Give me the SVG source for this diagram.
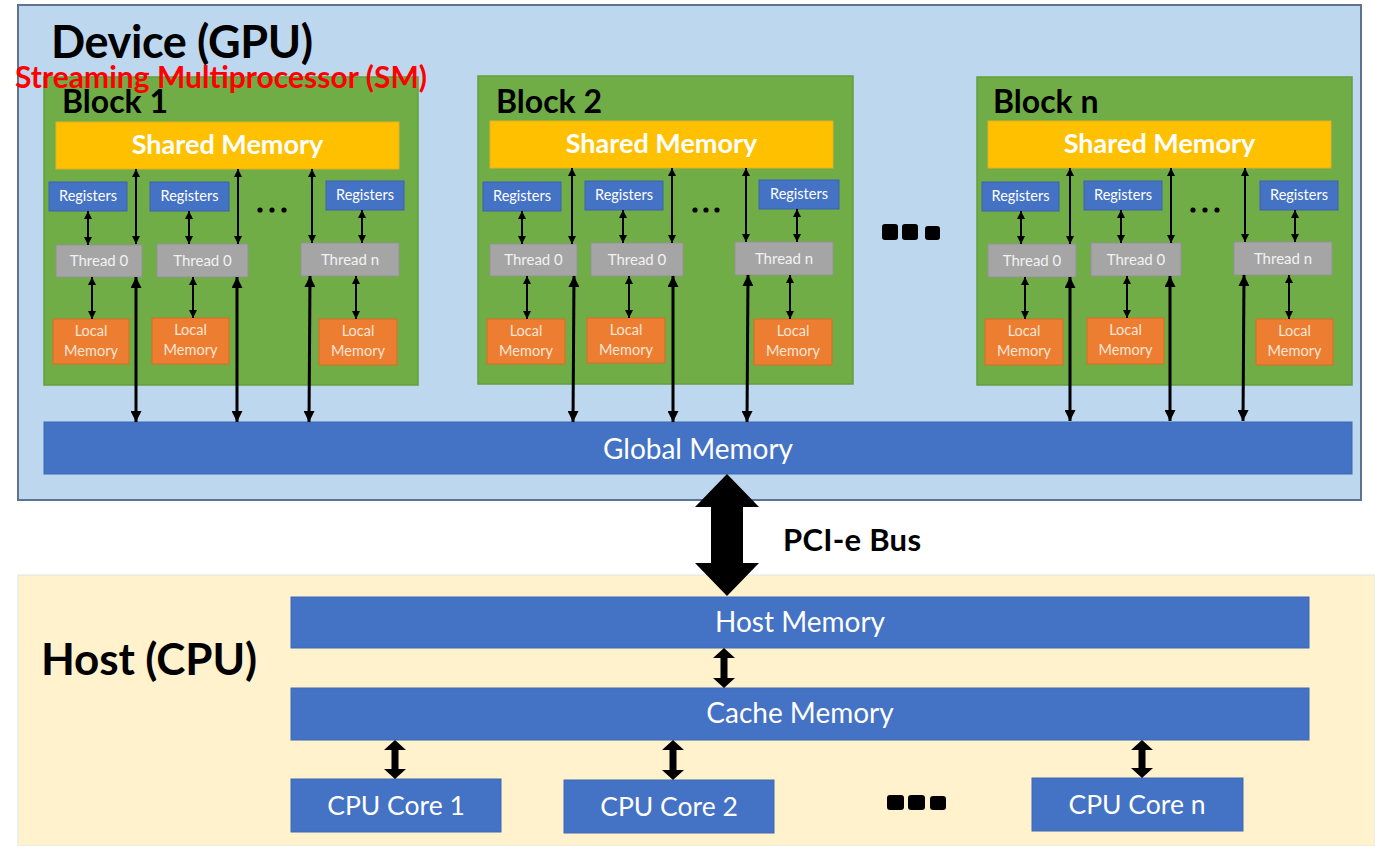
<svg xmlns="http://www.w3.org/2000/svg" width="1375" height="846" viewBox="0 0 1375 846">
<defs>
<style>
text{font-family:Lato,"Liberation Sans",Arial,sans-serif}
.title{font-weight:bold;font-size:45px;fill:#000}
.sm{font-weight:bold;font-size:30px;fill:#FF0000}
.blk{fill:#70AD47;stroke:#62A03E;stroke-width:1.5}
.blabel{font-weight:bold;font-size:32px;fill:#000}
.shared{fill:#FFC000;stroke:#E8B020;stroke-width:1}
.sharedt{font-weight:bold;font-size:27px;fill:#fff;text-anchor:middle}
.reg{fill:#4472C4;stroke:#3A64AE;stroke-width:1}
.regt{font-size:14.5px;fill:#fff;text-anchor:middle}
.thr{fill:#A5A5A5;stroke:#939393;stroke-width:1}
.thrt{font-size:15px;fill:#F2F2F2;text-anchor:middle}
.loc{fill:#ED7D31;stroke:#D86E26;stroke-width:1}
.loct{font-size:14.5px;fill:#FBE5D6;text-anchor:middle}
.bar{fill:#4472C4;stroke:#3F69B6;stroke-width:1}
.bart{font-size:28px;fill:#fff;text-anchor:middle}
.core{fill:#4472C4;stroke:#3F69B6;stroke-width:1}
.coret{font-size:26.5px;fill:#fff;text-anchor:middle}
.a1{stroke:#000;stroke-width:2;fill:none;marker-start:url(#ah);marker-end:url(#ah)}
.a2{stroke:#000;stroke-width:3;fill:none;marker-start:url(#ahL);marker-end:url(#ahL)}
.big{fill:#000}
</style>
<marker id="ah" viewBox="0 0 10 10" refX="10" refY="5" markerWidth="8" markerHeight="8" markerUnits="userSpaceOnUse" orient="auto-start-reverse"><path d="M0,0 L10,5 L0,10 z" fill="#000"/></marker>
<marker id="ahL" viewBox="0 0 10 10" refX="10" refY="5" markerWidth="12" markerHeight="11" markerUnits="userSpaceOnUse" orient="auto-start-reverse"><path d="M0,0 L10,5 L0,10 z" fill="#000"/></marker>
</defs>
<rect width="1375" height="846" fill="#fff"/>

<g id="device">
<rect x="18" y="5" width="1343" height="495" fill="#BDD7EE" stroke="#5F7391" stroke-width="2"/>
<text class="title" x="51" y="58" textLength="262">Device (GPU)</text>
</g>

<g id="host">
<rect x="18" y="575" width="1357" height="271" fill="#FFF2CC" stroke="#DCE6EA" stroke-width="1"/>
<text class="title" x="41" y="675" textLength="216" style="font-size:44px">Host (CPU)</text>
</g>

<g id="block1" transform="translate(44,77)">
<rect class="blk" x="0" y="0" width="374" height="308"/>
<text class="blabel" x="18" y="36">Block 1</text>
<rect class="shared" x="12" y="45" width="343" height="47"/>
<text class="sharedt" x="183.5" y="77">Shared Memory</text>
<rect class="reg" x="5" y="105" width="78" height="29"/><text class="regt" x="44" y="124">Registers</text>
<rect class="reg" x="106" y="105" width="79" height="29"/><text class="regt" x="145.5" y="124">Registers</text>
<rect class="reg" x="282" y="104" width="78" height="29"/><text class="regt" x="321" y="123">Registers</text>
<rect class="thr" x="12" y="168" width="86" height="32"/><text class="thrt" x="55" y="189">Thread 0</text>
<rect class="thr" x="113" y="167" width="91" height="33"/><text class="thrt" x="158.5" y="189">Thread 0</text>
<rect class="thr" x="257" y="166" width="98" height="33"/><text class="thrt" x="306" y="188">Thread n</text>
<rect class="loc" x="9" y="242" width="76" height="45"/><text class="loct" x="47" y="259">Local</text><text class="loct" x="47" y="279">Memory</text>
<rect class="loc" x="108" y="241" width="77" height="46"/><text class="loct" x="146.5" y="258">Local</text><text class="loct" x="146.5" y="278">Memory</text>
<rect class="loc" x="275" y="242" width="78" height="46"/><text class="loct" x="314" y="259">Local</text><text class="loct" x="314" y="279">Memory</text>
<circle cx="216" cy="133" r="2.6"/><circle cx="228" cy="133" r="2.6"/><circle cx="240" cy="133" r="2.6"/>
</g>

<g id="block2" transform="translate(478,76)">
<rect class="blk" x="0" y="0" width="375" height="308"/>
<text class="blabel" x="18" y="37">Block 2</text>
<rect class="shared" x="12" y="45" width="343" height="47"/>
<text class="sharedt" x="183.5" y="77">Shared Memory</text>
<rect class="reg" x="5" y="106" width="78" height="29"/><text class="regt" x="44" y="125">Registers</text>
<rect class="reg" x="107" y="105" width="78" height="29"/><text class="regt" x="146" y="124">Registers</text>
<rect class="reg" x="281" y="104" width="80" height="29"/><text class="regt" x="321" y="123">Registers</text>
<rect class="thr" x="12" y="168" width="87" height="32"/><text class="thrt" x="55.5" y="189">Thread 0</text>
<rect class="thr" x="113" y="167" width="92" height="33"/><text class="thrt" x="159" y="189">Thread 0</text>
<rect class="thr" x="257" y="166" width="98" height="33"/><text class="thrt" x="306" y="188">Thread n</text>
<rect class="loc" x="9" y="243" width="78" height="45"/><text class="loct" x="48" y="260">Local</text><text class="loct" x="48" y="280">Memory</text>
<rect class="loc" x="109" y="242" width="78" height="45"/><text class="loct" x="148" y="259">Local</text><text class="loct" x="148" y="279">Memory</text>
<rect class="loc" x="276" y="243" width="78" height="46"/><text class="loct" x="315" y="260">Local</text><text class="loct" x="315" y="280">Memory</text>
<circle cx="217" cy="134" r="2.6"/><circle cx="228" cy="134" r="2.6"/><circle cx="239" cy="134" r="2.6"/>
</g>

<g id="blockn" transform="translate(977,77)">
<rect class="blk" x="0" y="0" width="375" height="308"/>
<text class="blabel" x="16" y="36">Block n</text>
<rect class="shared" x="11" y="44" width="343" height="47"/>
<text class="sharedt" x="182.5" y="76">Shared Memory</text>
<rect class="reg" x="5" y="105" width="77" height="29"/><text class="regt" x="43.5" y="124">Registers</text>
<rect class="reg" x="107" y="104" width="78" height="29"/><text class="regt" x="146" y="123">Registers</text>
<rect class="reg" x="283" y="104" width="78" height="29"/><text class="regt" x="322" y="123">Registers</text>
<rect class="thr" x="11" y="167" width="88" height="33"/><text class="thrt" x="55" y="189">Thread 0</text>
<rect class="thr" x="114" y="166" width="90" height="33"/><text class="thrt" x="159" y="188">Thread 0</text>
<rect class="thr" x="257" y="165" width="98" height="33"/><text class="thrt" x="306" y="187">Thread n</text>
<rect class="loc" x="8" y="242" width="78" height="46"/><text class="loct" x="47" y="259">Local</text><text class="loct" x="47" y="279">Memory</text>
<rect class="loc" x="110" y="241" width="77" height="46"/><text class="loct" x="148.5" y="258">Local</text><text class="loct" x="148.5" y="278">Memory</text>
<rect class="loc" x="279" y="242" width="77" height="46"/><text class="loct" x="317.5" y="259">Local</text><text class="loct" x="317.5" y="279">Memory</text>
<circle cx="216" cy="133" r="2.6"/><circle cx="228" cy="133" r="2.6"/><circle cx="240" cy="133" r="2.6"/>
</g>

<g id="sm-label">
<text class="sm" x="15" y="88" textLength="412">Streaming Multiprocessor (SM)</text>
</g>

<g id="global-memory">
<rect class="bar" x="44" y="422" width="1308" height="52"/>
<text class="bart" x="698" y="459">Global Memory</text>
</g>

<g id="host-memory">
<rect class="bar" x="291" y="597" width="1018" height="51"/>
<text class="bart" x="800" y="632">Host Memory</text>
</g>

<g id="cache-memory">
<rect class="bar" x="291" y="688" width="1018" height="52"/>
<text class="bart" x="800" y="723">Cache Memory</text>
</g>

<g id="core1"><rect class="core" x="291" y="779" width="210" height="53"/><text class="coret" x="396" y="815">CPU Core 1</text></g>
<g id="core2"><rect class="core" x="564" y="780" width="210" height="53"/><text class="coret" x="669" y="816">CPU Core 2</text></g>
<g id="coren"><rect class="core" x="1032" y="778" width="211" height="53"/><text class="coret" x="1137" y="814">CPU Core n</text></g>

<g id="ellipsis-blocks">
<rect x="882" y="224" width="16" height="16" rx="3"/>
<rect x="902" y="224" width="16" height="16" rx="3"/>
<rect x="925" y="226" width="15" height="14" rx="3"/>
</g>
<g id="ellipsis-cores">
<rect x="887" y="795" width="17" height="15" rx="3"/>
<rect x="908" y="795" width="17" height="15" rx="3"/>
<rect x="930" y="796" width="16" height="14" rx="3"/>
</g>

<g id="pci-label">
<text x="783" y="551" textLength="138" style="font-weight:bold;font-size:31px;fill:#000">PCI-e Bus</text>
</g>

<g id="connectors">
<g transform="translate(44,77)">
<line class="a1" x1="44" y1="134" x2="44" y2="168"/>
<line class="a1" x1="145" y1="134" x2="145" y2="167"/>
<line class="a1" x1="318" y1="133" x2="318" y2="166"/>
<line class="a1" x1="92" y1="92" x2="92" y2="167"/>
<line class="a1" x1="194" y1="92" x2="194" y2="167"/>
<line class="a1" x1="268" y1="92" x2="268" y2="166"/>
<line class="a1" x1="48" y1="200" x2="48" y2="242"/>
<line class="a1" x1="149" y1="200" x2="149" y2="241"/>
<line class="a1" x1="312" y1="199" x2="312" y2="242"/>
<line class="a2" x1="92" y1="200" x2="92" y2="345"/>
<line class="a2" x1="193" y1="200" x2="193" y2="345"/>
<line class="a2" x1="266" y1="199" x2="265" y2="345"/>
</g>
<g transform="translate(478,76)">
<line class="a1" x1="44" y1="135" x2="44" y2="168"/>
<line class="a1" x1="145" y1="134" x2="145" y2="167"/>
<line class="a1" x1="319" y1="133" x2="319" y2="166"/>
<line class="a1" x1="94" y1="92" x2="94" y2="168"/>
<line class="a1" x1="194" y1="92" x2="194" y2="167"/>
<line class="a1" x1="268" y1="92" x2="268" y2="166"/>
<line class="a1" x1="49" y1="200" x2="49" y2="243"/>
<line class="a1" x1="151" y1="200" x2="151" y2="242"/>
<line class="a1" x1="312" y1="199" x2="312" y2="243"/>
<line class="a2" x1="96" y1="200" x2="95" y2="346"/>
<line class="a2" x1="195" y1="200" x2="195" y2="346"/>
<line class="a2" x1="270" y1="199" x2="269" y2="346"/>
</g>
<g transform="translate(977,77)">
<line class="a1" x1="44" y1="134" x2="44" y2="167"/>
<line class="a1" x1="144" y1="133" x2="144" y2="166"/>
<line class="a1" x1="318" y1="133" x2="318" y2="165"/>
<line class="a1" x1="93" y1="91" x2="93" y2="167"/>
<line class="a1" x1="194" y1="91" x2="194" y2="166"/>
<line class="a1" x1="268" y1="91" x2="268" y2="165"/>
<line class="a1" x1="48" y1="200" x2="48" y2="242"/>
<line class="a1" x1="150" y1="199" x2="150" y2="241"/>
<line class="a1" x1="312" y1="198" x2="312" y2="242"/>
<line class="a2" x1="93" y1="200" x2="93" y2="344"/>
<line class="a2" x1="193" y1="199" x2="193" y2="344"/>
<line class="a2" x1="267" y1="198" x2="266" y2="344"/>
</g>
<polygon class="big" points="727,474 759,507 743,507 743,563 759,563 727,596 695,563 711,563 711,507 695,507"/>
<polygon class="big" points="724,648 735,658 727.5,658 727.5,678 735,678 724,688 713,678 720.5,678 720.5,658 713,658"/>
<polygon class="big" points="395,740 406,750 398.5,750 398.5,769 406,769 395,779 384,769 391.5,769 391.5,750 384,750"/>
<polygon class="big" points="673,740 684,750 676.5,750 676.5,770 684,770 673,780 662,770 669.5,770 669.5,750 662,750"/>
<polygon class="big" points="1142,740 1153,750 1145.5,750 1145.5,768 1153,768 1142,778 1131,768 1138.5,768 1138.5,750 1131,750"/>
</g>
</svg>
